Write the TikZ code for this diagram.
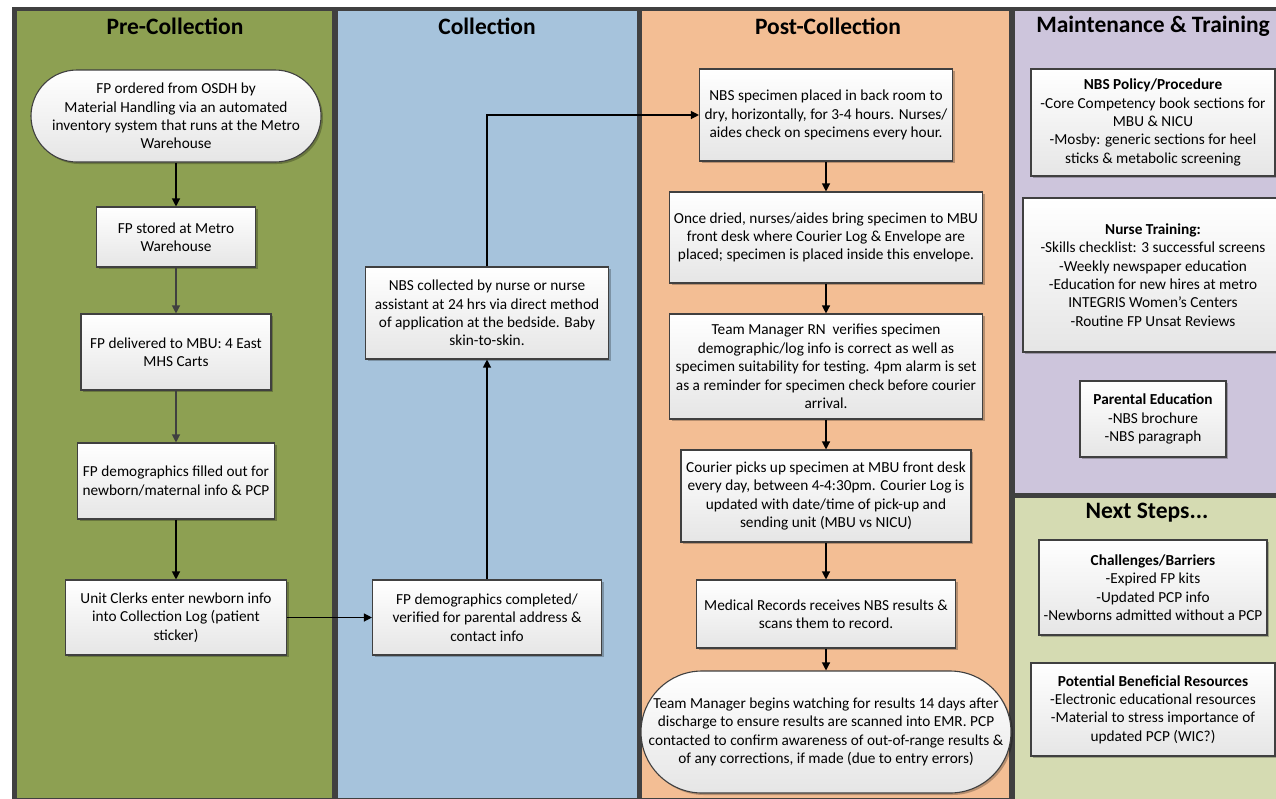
\documentclass[tikz,border=0pt]{standalone}
\usepackage{fontspec}
\setmainfont{Carlito}
\usetikzlibrary{arrows.meta,shadows}
\definecolor{framegray}{HTML}{404040}
\definecolor{lanegreen}{HTML}{8DA052}
\definecolor{laneblue}{HTML}{A6C3DC}
\definecolor{laneorange}{HTML}{F3BE94}
\definecolor{lanepurple}{HTML}{CDC5DC}
\definecolor{lanelight}{HTML}{D5DBB2}
\begin{document}
\begin{tikzpicture}[x=1pt,y=-1pt,
  box/.style={draw=framegray, line width=1.1pt, top color=white, bottom color=black!10,
    drop shadow={shadow xshift=2pt, shadow yshift=-2pt, opacity=0.25, fill=black},
    align=center, inner sep=0pt, font=\fontsize{15.3}{18.4}\selectfont},
  term/.style={box, rounded corners=#1},
  lanetitle/.style={font=\fontsize{23.5}{27}\selectfont\bfseries, inner sep=0pt},
  arr/.style={line width=1.2pt, -{Triangle[length=8pt,width=8pt]}},
  garr/.style={arr, draw=framegray, fill=framegray}
]
\useasboundingbox (0,0) rectangle (1276,798);
% background and lanes
\fill[white] (0,0) rectangle (1276,798);
\fill[framegray] (12,7) rectangle (1280,800);
\fill[lanegreen] (17,11) rectangle (332,798);
\fill[laneblue] (338,11) rectangle (637,798);
\fill[laneorange] (642,11) rectangle (1009,798);
\fill[lanepurple] (1015,11) rectangle (1280,493);
\fill[lanelight] (1015,498) rectangle (1280,800);

% lane titles
\node[lanetitle] (t1) at (175,26) {Pre-Collection};
\node[lanetitle] (t2) at (487,26) {Collection};
\node[lanetitle] (t3) at (828,26) {Post-Collection};
\node[lanetitle] (t4) at (1153,26) {Maintenance \& Training};
\node[lanetitle] (t5) at (1147,513) {Next Steps...};

% Pre-Collection
\node[term=46pt, minimum width=290, minimum height=92] (b1) at (176,116)
  {FP ordered from OSDH by\\Material Handling via an automated\\inventory system that runs at the Metro\\Warehouse};
\node[box, minimum width=159, minimum height=60] (b2) at (176,237)
  {FP stored at Metro\\Warehouse};
\node[box, minimum width=190, minimum height=76] (b3) at (176,352)
  {FP delivered to MBU: 4 East\\MHS Carts};
\node[box, minimum width=197, minimum height=76] (b4) at (176,481)
  {FP demographics filled out for\\newborn/maternal info \& PCP};
\node[box, minimum width=221, minimum height=75] (b5) at (176,617.5)
  {Unit Clerks enter newborn info\\into Collection Log (patient\\sticker)};

% Collection
\node[box, minimum width=229, minimum height=75] (b6) at (487,617.5)
  {FP demographics completed/\\verified for parental address \&\\contact info};
\node[box, minimum width=243, minimum height=92] (b7) at (487,313)
  {NBS collected by nurse or nurse\\assistant at 24 hrs via direct method\\of application at the bedside. Baby\\skin-to-skin.};

% Post-Collection
\node[box, minimum width=253, minimum height=92] (b8) at (826,115)
  {NBS specimen placed in back room to\\dry, horizontally, for 3-4 hours. Nurses/\\aides check on specimens every hour.};
\node[box, minimum width=313, minimum height=91] (b9) at (826,237.5)
  {Once dried, nurses/aides bring specimen to MBU\\front desk where Courier Log \& Envelope are\\placed; specimen is placed inside this envelope.};
\node[box, minimum width=313, minimum height=105] (b10) at (826,366.5)
  {Team Manager RN\ \ verifies specimen\\demographic/log info is correct as well as\\specimen suitability for testing. 4pm alarm is set\\as a reminder for specimen check before courier\\arrival.};
\node[box, minimum width=290, minimum height=92] (b11) at (826,496)
  {Courier picks up specimen at MBU front desk\\every day, between 4-4:30pm. Courier Log is\\updated with date/time of pick-up and\\sending unit (MBU vs NICU)};
\node[box, minimum width=259, minimum height=68] (b12) at (826,614)
  {Medical Records receives NBS results \&\\scans them to record.};
\node[term=61pt, minimum width=370, minimum height=122] (b13) at (826,732)
  {Team Manager begins watching for results 14 days after\\discharge to ensure results are scanned into EMR. PCP\\contacted to confirm awareness of out-of-range results \&\\of any corrections, if made (due to entry errors)};

% Maintenance & Training
\node[box, minimum width=244, minimum height=107] (m1) at (1153,122.5)
  {\textbf{NBS Policy/Procedure}\\-Core Competency book sections for\\MBU \& NICU\\-Mosby: generic sections for heel\\sticks \& metabolic screening};
\node[box, minimum width=260, minimum height=154] (m2) at (1153,275)
  {\textbf{Nurse Training:}\\-Skills checklist: 3 successful screens\\-Weekly newspaper education\\-Education for new hires at metro\\INTEGRIS Women’s Centers\\-Routine FP Unsat Reviews};
\node[box, minimum width=146, minimum height=76] (m3) at (1153,419)
  {\textbf{Parental Education}\\-NBS brochure\\-NBS paragraph};

% Next Steps
\node[box, minimum width=228, minimum height=95] (n1) at (1153,587.5)
  {\textbf{Challenges/Barriers}\\-Expired FP kits\\-Updated PCP info\\-Newborns admitted without a PCP};
\node[box, minimum width=244, minimum height=93] (n2) at (1153,709.5)
  {\textbf{Potential Beneficial Resources}\\-Electronic educational resources\\-Material to stress importance of\\updated PCP (WIC?)};

% connectors
\draw[arr] (b1) -- (b2);
\draw[garr] (b2) -- (b3);
\draw[garr] (b3) -- (b4);
\draw[arr] (b4) -- (b5);
\draw[arr] (b5) -- (b6);
\draw[arr] (b6) -- (b7);
\draw[arr] (b7.north) |- (b8.west);
\draw[arr] (b8) -- (b9);
\draw[arr] (b9) -- (b10);
\draw[arr] (b10) -- (b11);
\draw[arr] (b11) -- (b12);
\draw[arr] (b12) -- (b13);
\end{tikzpicture}
\end{document}
